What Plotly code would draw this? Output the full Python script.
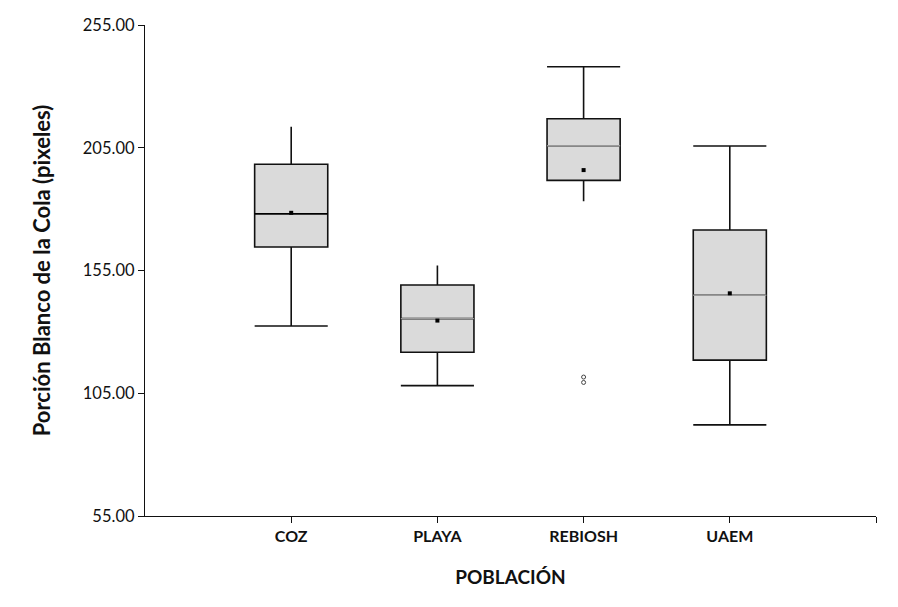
import plotly.graph_objects as go

categories = ["COZ", "PLAYA", "REBIOSH", "UAEM"]
positions = [1, 2, 3, 4]
lower_whisker = [132.4, 108.1, 183.2, 92.1]
q1 = [164.6, 121.7, 191.7, 118.5]
median = [178.1, 135.4, 205.8, 144.9]
q3 = [198.3, 149.1, 216.8, 171.5]
upper_whisker = [213.6, 157.0, 238.0, 205.7]
means = [178.5, 134.6, 195.9, 145.7]
outlier_x = [3, 3]
outlier_y = [111.6, 109.4]
median_colors = ["#000000", "#9a9a9a", "#9a9a9a", "#9a9a9a"]
upper_cap = [False, False, True, True]
lower_cap = [True, True, False, True]
y_ticks = [55, 105, 155, 205, 255]

BOX_W = 0.5
FONT = "Lato"
INK = "#111111"

fig = go.Figure()
fig.add_trace(go.Box(
    x=positions, q1=q1, median=median, q3=q3,
    lowerfence=lower_whisker, upperfence=upper_whisker,
    width=BOX_W, whiskerwidth=0,
    fillcolor="#dadada", line=dict(color=INK, width=1.6),
    boxpoints=False, showlegend=False, hoverinfo="skip",
))
# median lines (coloured separately, as in the reference)
for xp, m, c in zip(positions, median, median_colors):
    fig.add_trace(go.Scatter(
        x=[xp - BOX_W / 2, xp + BOX_W / 2], y=[m, m], mode="lines",
        line=dict(color=c, width=1.4), showlegend=False, hoverinfo="skip",
    ))
# whisker caps where the reference draws them
for xp, lo, hi, cl, cu in zip(positions, lower_whisker, upper_whisker, lower_cap, upper_cap):
    for val, on in ((lo, cl), (hi, cu)):
        if on:
            fig.add_trace(go.Scatter(
                x=[xp - BOX_W / 2, xp + BOX_W / 2], y=[val, val], mode="lines",
                line=dict(color=INK, width=1.6), showlegend=False, hoverinfo="skip",
            ))
fig.add_trace(go.Scatter(
    x=positions, y=means, mode="markers",
    marker=dict(symbol="square", size=4, color="#000000"),
    showlegend=False,
))
fig.add_trace(go.Scatter(
    x=outlier_x, y=outlier_y, mode="markers",
    marker=dict(symbol="circle-open", size=4, color="#444444", line=dict(width=1)),
    showlegend=False,
))

fig.update_layout(
    width=898, height=607,
    margin=dict(l=145, r=22, t=25, b=91),
    paper_bgcolor="white", plot_bgcolor="white",
    font=dict(family=FONT, color=INK),
    showlegend=False,
)
fig.update_xaxes(
    range=[0, 5], tickvals=positions + [5], ticktext=categories + [""],
    showgrid=False, zeroline=False,
    showline=True, linecolor=INK, linewidth=1.3,
    ticks="outside", ticklen=6, tickcolor=INK,
    tickfont=dict(family=FONT, size=16, color=INK, weight="bold"),
    title=dict(text="<b>POBLACIÓN</b>", font=dict(family=FONT, size=19, color=INK), standoff=26),
)
fig.update_yaxes(
    range=[55, 255], tickvals=y_ticks, ticktext=[f"{v:.2f}" for v in y_ticks],
    showgrid=False, zeroline=False,
    showline=True, linecolor=INK, linewidth=1.3,
    ticks="outside", ticklen=6, tickcolor=INK,
    tickfont=dict(family=FONT, size=16.5, color=INK),
    title=dict(text="<b>Porción Blanco de la Cola (pixeles)</b>", font=dict(family=FONT, size=22, color=INK), standoff=26),
)

fig.write_html("out.html")
